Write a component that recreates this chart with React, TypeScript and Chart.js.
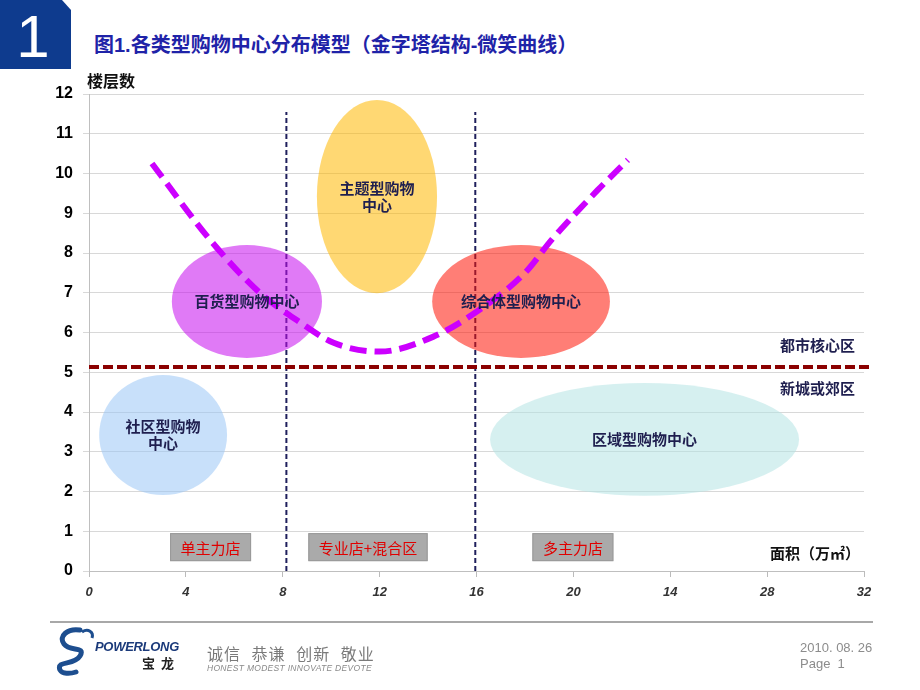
import React, { useEffect, useRef } from 'react';
import { Chart, registerables } from 'chart.js';

Chart.register(...registerables);

// ---- data ----
const xTickValues = [0, 4, 8, 12, 16, 20, 24, 28, 32];
const xTickLabels = ['0', '4', '8', '12', '16', '20', '14', '28', '32'];

const smileX = [2.6, 5.0, 7.05, 8.7, 10.1, 12.0, 14.2, 16.0, 18.0, 19.1, 21.0, 22.25];
const smileY = [10.25, 8.33, 7.0, 6.26, 5.74, 5.52, 5.89, 6.52, 7.5, 8.33, 9.58, 10.34];

const dividerX = [8.15, 15.95];
const dividerTop = 11.55;

const zoneLineY = 5.13;
const zoneLineX = [0, 32.3];

const ellipseNames = ['百货型购物中心', '主题型购物\n中心', '综合体型购物中心', '社区型购物\n中心', '区域型购物中心'];
const ellipseX = [6.52, 11.89, 17.84, 3.06, 22.94];
const ellipseY = [6.78, 9.42, 6.78, 3.42, 3.31];
const ellipseRX = [3.1, 2.48, 3.67, 2.64, 6.38];
const ellipseRY = [1.42, 2.43, 1.42, 1.51, 1.42];

const storeLabels = ['单主力店', '专业店+混合区', '多主力店'];
const storeLabelX = [5.02, 11.52, 19.98];
const storeLabelY = 0.6;

const zoneLabels = ['都市核心区', '新城或郊区'];

// ---- styles ----
const ellipseColors = [
  'rgba(199,13,239,0.55)',
  'rgba(255,184,0,0.55)',
  'rgba(255,20,5,0.55)',
  'rgba(155,199,246,0.55)',
  'rgba(180,228,228,0.55)',
];
const CJK = '"Noto Sans CJK SC", sans-serif';
const LAT = '"Liberation Sans", "Noto Sans CJK SC", sans-serif';

const overlayPlugin = {
  id: 'overlay',
  afterDatasetDraw(chart: any, args: any) {
    if (chart.data.datasets[args.index].label !== 'divider-2') return;
    const { ctx } = chart;
    const xs = chart.scales.x;
    const ys = chart.scales.y;
    ctx.save();
    ellipseX.forEach((cx, i) => {
      const px = xs.getPixelForValue(cx);
      const py = ys.getPixelForValue(ellipseY[i]);
      const rx = xs.getPixelForValue(cx + ellipseRX[i]) - px;
      const ry = py - ys.getPixelForValue(ellipseY[i] + ellipseRY[i]);
      ctx.beginPath();
      ctx.ellipse(px, py, rx, ry, 0, 0, Math.PI * 2);
      ctx.fillStyle = ellipseColors[i];
      ctx.fill();
    });
    ctx.restore();
  },
  afterDatasetsDraw(chart: any) {
    const { ctx } = chart;
    const xs = chart.scales.x;
    const ys = chart.scales.y;
    ctx.save();
    ctx.textAlign = 'center';
    ctx.textBaseline = 'middle';
    ctx.font = 'bold 15px ' + CJK;
    ctx.fillStyle = '#1F1F4F';
    ellipseNames.forEach((name, i) => {
      const px = xs.getPixelForValue(ellipseX[i]);
      const py = ys.getPixelForValue(ellipseY[i]);
      const lines = name.split('\n');
      const lh = 17;
      lines.forEach((ln, j) => {
        ctx.fillText(ln, px, py - ((lines.length - 1) * lh) / 2 + j * lh);
      });
    });
    ctx.font = '15px ' + CJK;
    storeLabels.forEach((t, i) => {
      const cx = xs.getPixelForValue(storeLabelX[i]);
      const cy = ys.getPixelForValue(storeLabelY);
      const w = ctx.measureText(t).width + 21;
      const h = 28;
      ctx.fillStyle = '#AAAAAA';
      ctx.fillRect(cx - w / 2, cy - h / 2, w, h);
      ctx.strokeStyle = '#999999';
      ctx.lineWidth = 1;
      ctx.strokeRect(cx - w / 2 + 0.5, cy - h / 2 + 0.5, w - 1, h - 1);
      ctx.fillStyle = '#E00000';
      ctx.fillText(t, cx, cy + 1);
    });
    ctx.restore();
  },
};

function ChartCanvas() {
  const ref = useRef<HTMLCanvasElement | null>(null);
  useEffect(() => {
    if (!ref.current) return;
    const chart = new Chart(ref.current, {
      type: 'scatter',
      data: {
        datasets: [
          {
            label: 'divider-1',
            data: [{ x: dividerX[0], y: 0 }, { x: dividerX[0], y: dividerTop }],
            showLine: true,
            borderColor: '#1F1F5C',
            borderWidth: 2,
            borderDash: [5, 3],
            pointRadius: 0,
            order: 6,
          },
          {
            label: 'divider-2',
            data: [{ x: dividerX[1], y: 0 }, { x: dividerX[1], y: dividerTop }],
            showLine: true,
            borderColor: '#1F1F5C',
            borderWidth: 2,
            borderDash: [5, 3],
            pointRadius: 0,
            order: 5,
          },
          {
            label: 'zone',
            data: [{ x: zoneLineX[0], y: zoneLineY }, { x: zoneLineX[1], y: zoneLineY }],
            showLine: true,
            borderColor: '#8B0000',
            borderWidth: 4,
            borderDash: [10, 4],
            pointRadius: 0,
            clip: false,
            order: 3,
          },
          {
            label: 'smile',
            data: smileX.map((x, i) => ({ x, y: smileY[i] })),
            showLine: true,
            borderColor: '#CC00FF',
            borderWidth: 6,
            borderDash: [17, 8],
            borderCapStyle: 'butt',
            cubicInterpolationMode: 'monotone',
            pointRadius: 0,
            order: 2,
          },
        ],
      } as any,
      options: {
        animation: false,
        responsive: false,
        maintainAspectRatio: false,
        layout: { padding: { left: 0, top: 94, right: 56, bottom: 0 } },
        plugins: { legend: { display: false }, tooltip: { enabled: false } },
        scales: {
          x: {
            type: 'linear',
            min: 0,
            max: 32,
            afterBuildTicks: (s: any) => {
              s.ticks = xTickValues.map((v) => ({ value: v }));
            },
            afterFit: (s: any) => {
              s.height = 119;
            },
            ticks: {
              autoSkip: false,
              maxRotation: 0,
              padding: 8,
              color: '#333333',
              font: { family: LAT, size: 13, style: 'italic', weight: 'bold' },
              callback: (v: any) => xTickLabels[xTickValues.indexOf(Number(v))],
            },
            grid: { drawOnChartArea: false, drawTicks: true, tickLength: 6, color: '#BBBBBB' },
            border: { display: true, color: '#BFBFBF', width: 1 },
          },
          y: {
            min: 0,
            max: 12,
            afterFit: (s: any) => {
              s.width = 89;
            },
            ticks: {
              stepSize: 1,
              padding: 10,
              color: '#000000',
              font: { family: LAT, size: 16, weight: 'bold' },
            },
            grid: { color: '#D8D8D8', drawTicks: true, tickLength: 6, lineWidth: 1 },
            border: { display: true, color: '#BFBFBF', width: 1 },
          },
        },
      } as any,
      plugins: [overlayPlugin],
    });
    return () => chart.destroy();
  }, []);
  return (
    <canvas
      ref={ref}
      width={920}
      height={690}
      style={{ position: 'absolute', left: 0, top: 0, width: 920, height: 690 }}
    />
  );
}

export default function App() {
  const abs = (l: number, t: number, extra: any = {}) => ({
    position: 'absolute' as const,
    left: l,
    top: t,
    whiteSpace: 'nowrap' as const,
    ...extra,
  });
  return (
    <div
      style={{
        position: 'absolute',
        left: 0,
        top: 0,
        width: 920,
        height: 690,
        background: '#ffffff',
        overflow: 'hidden',
        fontFamily: LAT,
      }}
    >
      <svg width={74} height={72} style={{ position: 'absolute', left: 0, top: 0 }}>
        <polygon points="0,0 62,0 71,10 71,69 0,69" fill="#0E3B8E" />
        <text x={33} y={57} fill="#ffffff" fontSize={60} textAnchor="middle" fontFamily={LAT}>
          1
        </text>
      </svg>
      <div style={abs(94, 32, { fontSize: 20, fontWeight: 'bold', color: '#1F23A8', lineHeight: '26px', fontFamily: LAT })}>
        图1.各类型购物中心分布模型（金字塔结构-微笑曲线）
      </div>
      <ChartCanvas />
      <div style={abs(87, 69, { fontSize: 16, fontWeight: 'bold', color: '#111', lineHeight: '22px', fontFamily: CJK })}>
        楼层数
      </div>
      <div style={abs(780, 335, { fontSize: 15, fontWeight: 'bold', color: '#1F1F4F', lineHeight: '20px', fontFamily: CJK })}>
        {zoneLabels[0]}
      </div>
      <div style={abs(780, 378, { fontSize: 15, fontWeight: 'bold', color: '#1F1F4F', lineHeight: '20px', fontFamily: CJK })}>
        {zoneLabels[1]}
      </div>
      <div style={abs(770, 543, { fontSize: 15, fontWeight: 'bold', color: '#111', lineHeight: '20px', fontFamily: CJK })}>
        面积（万㎡）
      </div>
      {/* footer */}
      <div style={abs(50, 621, { width: 823, height: 2, background: '#A8A8A8' })} />
      <svg width={48} height={50} style={{ position: 'absolute', left: 50, top: 626 }}>
        <path d="M30,4 C18,2 8,10 14,18 C20,26 36,20 30,30 C24,40 6,34 10,44 C12,48 20,48 26,46"
          stroke="#1D4E8F" strokeWidth={5} fill="none" strokeLinecap="round" />
        <path d="M32,6 C38,2 44,6 42,12" stroke="#1D4E8F" strokeWidth={3} fill="none" />
      </svg>
      <div style={abs(95, 639, { fontSize: 13, fontStyle: 'italic', fontWeight: 'bold', color: '#1B3A7A', letterSpacing: '-0.3px', lineHeight: '16px' })}>
        POWERLONG
      </div>
      <div style={abs(142, 655, { fontSize: 13, fontWeight: 'bold', color: '#222', lineHeight: '16px', fontFamily: CJK, letterSpacing: '6px' })}>
        宝龙
      </div>
      <div style={abs(207, 643, { fontSize: 16, color: '#7A7A7A', lineHeight: '20px', fontFamily: CJK, wordSpacing: '6px', letterSpacing: '1px' })}>
        诚信 恭谦 创新 敬业
      </div>
      <div style={abs(207, 663, { fontSize: 8.5, fontStyle: 'italic', color: '#8A8A8A', lineHeight: '11px', letterSpacing: '0.3px' })}>
        HONEST MODEST INNOVATE DEVOTE
      </div>
      <div style={abs(800, 640, { fontSize: 13, color: '#8C8C8C', lineHeight: '15px' })}>2010. 08. 26</div>
      <div style={abs(800, 656, { fontSize: 13, color: '#8C8C8C', lineHeight: '15px' })}>Page&nbsp;&nbsp;1</div>
    </div>
  );
}
